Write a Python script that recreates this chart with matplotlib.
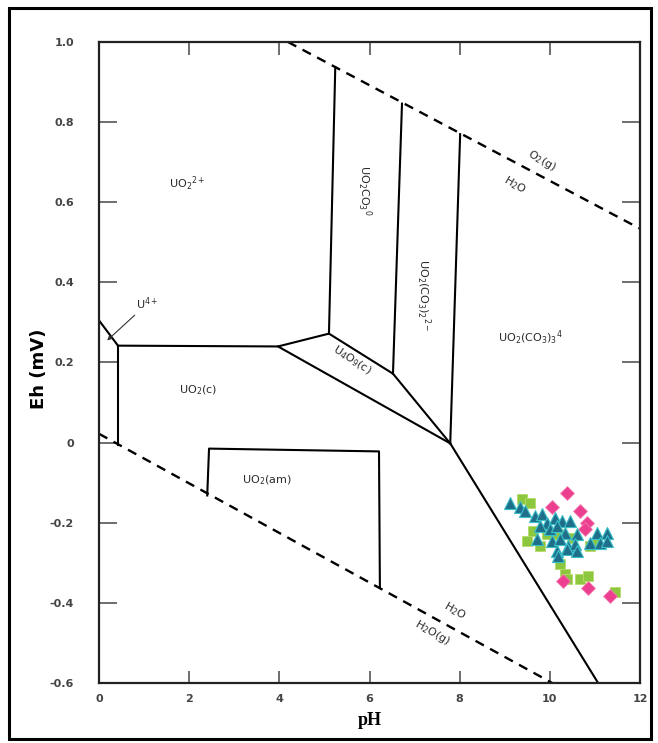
import matplotlib.pyplot as plt
from matplotlib.patches import Rectangle

# Eh-pH boundaries of the uranium diagram as (pH, Eh)
o2_h2o_ph = [4.19, 12.0]
o2_h2o_eh = [1.0, 0.534]
h2o_h2_ph = [0.0, 10.05]
h2o_h2_eh = [0.022, -0.6]

u4_edge_ph = [0.0, 0.42]
u4_edge_eh = [0.305, 0.242]
uo2c_left_ph = [0.42, 0.42]
uo2c_left_eh = [0.242, -0.007]
uo2c_top_ph = [0.42, 3.97, 5.10]
uo2c_top_eh = [0.242, 0.240, 0.272]
u4o9_low_ph = [3.97, 7.79]
u4o9_low_eh = [0.240, -0.002]
u4o9_up_ph = [5.10, 6.52, 7.79]
u4o9_up_eh = [0.272, 0.172, -0.002]
co3_1_ph = [5.10, 5.24]
co3_1_eh = [0.272, 0.937]
co3_2_ph = [6.52, 6.72]
co3_2_eh = [0.172, 0.846]
co3_3_ph = [7.79, 8.01]
co3_3_eh = [-0.002, 0.770]
co3_low_ph = [7.79, 11.07]
co3_low_eh = [-0.002, -0.6]
uo2am_ph = [2.40, 2.44, 6.21, 6.23]
uo2am_eh = [-0.132, -0.015, -0.022, -0.362]

# groundwater samples
tri_ph = [9.12, 9.34, 9.45, 9.67, 9.83, 9.94, 10.12, 10.27, 10.45, 9.78,
          10.00, 10.16, 10.34, 10.60, 9.72, 10.05, 10.23, 10.40, 10.56, 10.89,
          11.05, 11.27, 11.11, 11.27, 10.16, 10.38, 10.60, 10.18]
tri_eh = [-0.152, -0.162, -0.170, -0.182, -0.177, -0.200, -0.187, -0.195, -0.195, -0.207,
          -0.215, -0.207, -0.225, -0.227, -0.240, -0.245, -0.240, -0.257, -0.252, -0.250,
          -0.225, -0.225, -0.250, -0.245, -0.270, -0.265, -0.270, -0.282]
sq_ph = [9.38, 9.56, 9.49, 9.78, 10.89, 10.23, 10.34, 10.38, 10.67, 10.85,
         11.45, 9.94, 10.49, 11.05, 9.63, 10.18]
sq_eh = [-0.140, -0.150, -0.245, -0.257, -0.257, -0.302, -0.327, -0.340, -0.340, -0.332,
         -0.374, -0.227, -0.237, -0.252, -0.220, -0.227]
dia_ph = [10.38, 10.67, 10.83, 10.78, 10.05, 10.85, 10.29, 11.34]
dia_eh = [-0.127, -0.170, -0.200, -0.215, -0.162, -0.362, -0.345, -0.382]

x_ticks = [0, 2, 4, 6, 8, 10, 12]
y_ticks = [1.0, 0.8, 0.6, 0.4, 0.2, 0.0, -0.2, -0.4, -0.6]
y_labels = ['1.0', '0.8', '0.6', '0.4', '0.2', '0', '-0.2', '-0.4', '-0.6']

fig = plt.figure(figsize=(6.58, 7.43), dpi=100)
ax = fig.add_axes([0.1505, 0.0808, 0.8222, 0.8627])

# outer frame round the whole picture
fig.patches.append(Rectangle((0.013, 0.006), 0.976, 0.983, transform=fig.transFigure,
                             fill=False, edgecolor='black', linewidth=2.2))

# water stability limits
ax.plot(o2_h2o_ph, o2_h2o_eh, color='black', lw=1.7, ls=(0, (4, 3)))
ax.plot(h2o_h2_ph, h2o_h2_eh, color='black', lw=1.7, ls=(0, (4, 3)))

solid = [(u4_edge_ph, u4_edge_eh), (uo2c_left_ph, uo2c_left_eh), (uo2c_top_ph, uo2c_top_eh),
         (u4o9_low_ph, u4o9_low_eh), (u4o9_up_ph, u4o9_up_eh), (co3_1_ph, co3_1_eh),
         (co3_2_ph, co3_2_eh), (co3_3_ph, co3_3_eh), (co3_low_ph, co3_low_eh),
         (uo2am_ph, uo2am_eh)]
for xs, ys in solid:
    ax.plot(xs, ys, color='black', lw=1.5)

# samples
ax.scatter(sq_ph, sq_eh, marker='s', s=46, color='#8dc63f', edgecolor='#b5dc6a', lw=0.6, zorder=3)
ax.scatter(dia_ph, dia_eh, marker='D', s=50, color='#ec3f8f', edgecolor='#f47bb0', lw=0.6, zorder=3)
ax.scatter(tri_ph, tri_eh, marker='^', s=75, color='#1f6f8b', edgecolor='#3cc0c8', lw=0.8, zorder=4)

# field labels
lab = dict(fontsize=8, color='#2a2a2a', ha='center', va='center')
ax.text(1.95, 0.647, r'UO$_2$$^{2+}$', **lab)
ax.text(5.88, 0.63, r'UO$_2$CO$_3$$^0$', rotation=270, **lab)
ax.text(7.19, 0.367, r'UO$_2$(CO$_3$)$_2$$^{2-}$', rotation=270, **lab)
ax.text(9.57, 0.262, r'UO$_2$(CO$_3$)$_3$$^4$', **lab)
ax.text(5.61, 0.205, r'U$_4$O$_9$(c)', rotation=-33, **lab)
ax.text(2.2, 0.13, r'UO$_2$(c)', **lab)
ax.text(3.72, -0.095, r'UO$_2$(am)', **lab)
ax.text(9.83, 0.704, r'O$_2$(g)', rotation=-30, **lab)
ax.text(9.23, 0.642, r'H$_2$O', rotation=-30, **lab)
ax.text(7.9, -0.42, r'H$_2$O', rotation=-30, **lab)
ax.text(7.39, -0.474, r'H$_2$O(g)', rotation=-30, **lab)
ax.annotate(r'U$^{4+}$', xy=(0.18, 0.255), xytext=(1.06, 0.325),
            fontsize=8, color='#2a2a2a', ha='center', va='bottom',
            arrowprops=dict(arrowstyle='-|>', color='#333333', lw=0.8,
                            mutation_scale=6, shrinkA=0, shrinkB=0))

ax.set_xlim(0, 12)
ax.set_ylim(-0.6, 1.0)
ax.set_xticks(x_ticks)
ax.set_xticklabels([str(v) for v in x_ticks])
ax.set_yticks(y_ticks)
ax.set_yticklabels(y_labels)
ax.tick_params(axis='y', direction='in', length=13, width=1.2, pad=18, left=True, right=True,
               labelsize=8, labelcolor='#444444', color='#555555')
ax.tick_params(axis='x', direction='in', length=9, width=1.2, pad=8, bottom=True, top=True,
               labelsize=8, labelcolor='#444444', color='#555555')
for lbl in ax.get_xticklabels() + ax.get_yticklabels():
    lbl.set_fontweight('bold')
for sp in ax.spines.values():
    sp.set_linewidth(1.6)
    sp.set_color('#222222')

ax.set_ylabel('Eh (mV)', fontsize=13, fontweight='bold', labelpad=4)
ax.yaxis.set_label_coords(-0.095, 0.49)
ax.set_xlabel('pH', fontsize=13, fontweight='bold', family='Liberation Serif', labelpad=6)

fig.savefig('out.png', dpi=100)
